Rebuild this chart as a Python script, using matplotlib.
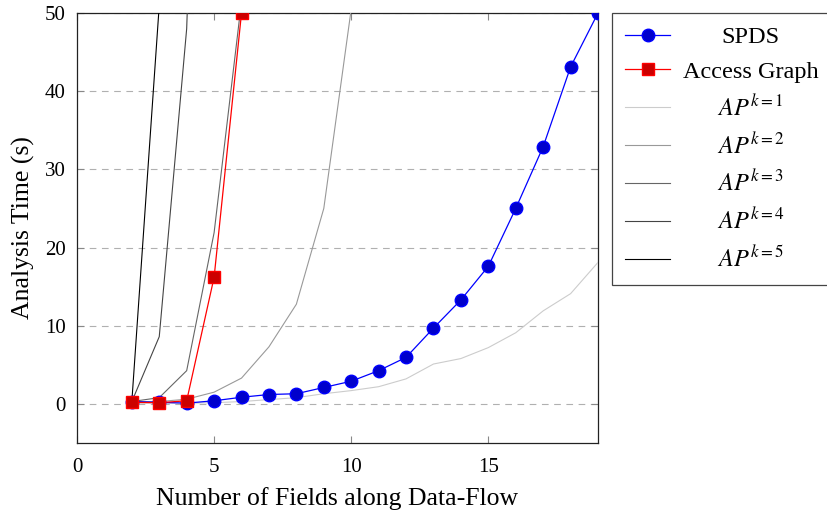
import numpy as np
import matplotlib
matplotlib.use("Agg")
import matplotlib.pyplot as plt

plt.rcParams['font.family'] = ['Liberation Serif', 'DejaVu Serif']
plt.rcParams['mathtext.fontset'] = 'stix'

# data
spds_x = list(range(2, 20))
spds_y = [0.3, 0.2, 0.1, 0.4, 0.85, 1.2, 1.3, 2.1, 2.9, 4.25, 5.95, 9.7, 13.3, 17.6, 25.0, 32.9, 43.1, 50.0]

ag_x = [2, 3, 4, 5, 6]
ag_y = [0.2, 0.15, 0.4, 16.2, 50.0]

ap1_x = list(range(2, 20))
ap1_y = [0.1, 0.1, 0.1, 0.15, 0.3, 0.55, 0.8, 1.3, 1.7, 2.2, 3.2, 5.1, 5.8, 7.2, 9.1, 11.9, 14.1, 18.1]
ap2_x = list(range(2, 11))
ap2_y = [0.3, 0.3, 0.6, 1.5, 3.3, 7.3, 12.75, 25.0, 50.5]
ap3_x = [2, 3, 4, 5, 6]
ap3_y = [0.3, 0.8, 4.25, 21.9, 51.5]
ap4_x = [2, 3, 4, 5]
ap4_y = [0.3, 8.6, 48.0, 150.0]
ap5_x = [2, 3]
ap5_y = [0.3, 51.0]

ap_series = [(ap1_x, ap1_y), (ap2_x, ap2_y), (ap3_x, ap3_y), (ap4_x, ap4_y), (ap5_x, ap5_y)]
ap_colors = ['#cccccc', '#999999', '#666666', '#444444', '#000000']

fig = plt.figure(figsize=(8.27, 5.16), dpi=100)
ax = fig.add_axes([0.0931, 0.1415, 0.63, 0.8333])

ax.plot(spds_x, spds_y, color='#0000ff', lw=0.9, marker='o', ms=9,
        markerfacecolor='#0000cc', markeredgecolor='#0000ff', label='SPDS', zorder=5)
ax.plot(ag_x, ag_y, color='#ff0000', lw=0.9, marker='s', ms=8.5,
        markerfacecolor='#cc0000', markeredgecolor='#ff0000', label='Access Graph', zorder=6)
for i, ((xs, ys), c) in enumerate(zip(ap_series, ap_colors)):
    ax.plot(xs, ys, color=c, lw=0.8, label=r'$AP^{k=%d}$' % (i + 1), zorder=3)

ax.set_xlim(0, 19)
ax.set_ylim(-5, 50)
ax.set_xticks([0, 5, 10, 15])
ax.set_yticks([0, 10, 20, 30, 40, 50])
ax.yaxis.grid(True, linestyle=(0, (6, 5)), color='#b0b0b0', lw=0.8)
ax.set_axisbelow(True)
ax.tick_params(direction='in', top=True, right=True, length=5, color='#888888',
               labelsize=15)
ax.tick_params(axis='x', pad=11)
ax.tick_params(axis='y', pad=8)
for s in ax.spines.values():
    s.set_linewidth(0.9)
    s.set_color('#222222')

ax.set_xlabel('Number of Fields along Data-Flow', fontsize=18.5, labelpad=7)
ax.set_ylabel('Analysis Time (s)', fontsize=18.5, labelpad=7)

leg = ax.legend(loc='upper left', bbox_to_anchor=(1.027, 1.0), fontsize=17.5,
                frameon=True, fancybox=False, edgecolor='#444444', framealpha=1,
                handlelength=1.85, borderaxespad=0, labelspacing=0.5, borderpad=0.55,
                handletextpad=0.5)
leg.get_frame().set_linewidth(0.9)

# center the legend texts like the reference
fig.canvas.draw()
texts = leg.get_texts()
widths = [t.get_window_extent().width for t in texts]
wmax = max(widths)
for t, w in zip(texts, widths):
    t.set_x((wmax - w) / 2)

fig.savefig('out.png', dpi=100)
